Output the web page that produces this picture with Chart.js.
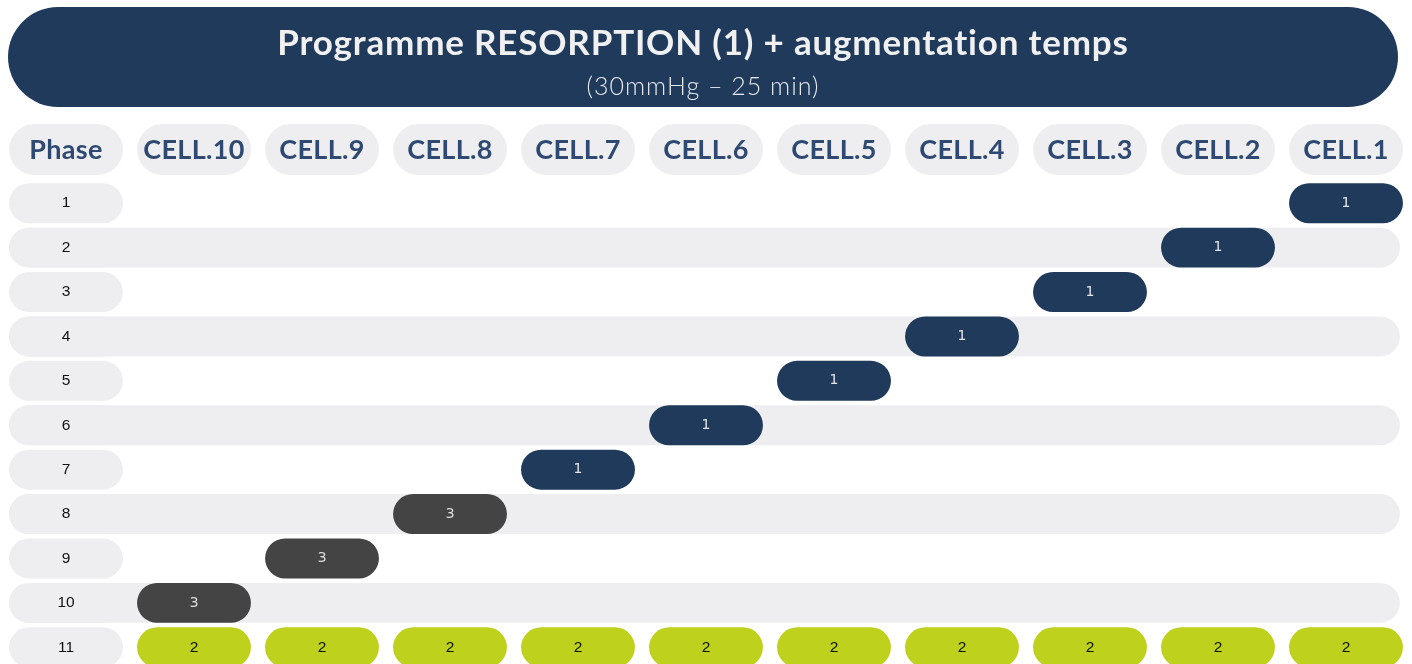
<!DOCTYPE html>
<html lang="fr">
<head>
<meta charset="utf-8">
<title>Programme RESORPTION (1) + augmentation temps</title>
<script src="https://cdn.jsdelivr.net/npm/chart.js@4/dist/chart.umd.min.js"></script>
<style>
  html, body { margin: 0; padding: 0; background: #ffffff; overflow: hidden; width: 1412px; height: 664px; }
  #wrap { position: absolute; left: 0; top: 0; width: 1412px; height: 690px; }
  #banner {
    position: absolute; left: 8px; top: 7px; width: 1390px; height: 100px;
    background: #1f3a5b; border-radius: 50px; color: #f0f0f0; text-align: center;
    font-family: "Lato", "Open Sans", sans-serif;
  }
  #banner .t1 { position: absolute; left: 0; right: 0; top: 13px; font-size: 35px; font-weight: 700; letter-spacing: 0.8px; line-height: 42px; }
  #banner .t2 { position: absolute; left: 0; right: 0; top: 63px; font-size: 25px; font-weight: 300; letter-spacing: 1px; line-height: 30px; color: #e6e9ee; }
</style>
</head>
<body>
<div id="wrap"><canvas id="c"></canvas></div>
<div id="banner">
  <div class="t1">Programme RESORPTION (1) + augmentation temps</div>
  <div class="t2">(30mmHg – 25 min)</div>
</div>
<script>
// ---------- DATA ----------
const phases = ['1', '2', '3', '4', '5', '6', '7', '8', '9', '10', '11'];
const phaseHeader = 'Phase';
const cells = ['CELL.10', 'CELL.9', 'CELL.8', 'CELL.7', 'CELL.6', 'CELL.5', 'CELL.4', 'CELL.3', 'CELL.2', 'CELL.1'];
// Phases 1 to 10: one active cell per phase and its value
const activeCell = ['CELL.1', 'CELL.2', 'CELL.3', 'CELL.4', 'CELL.5', 'CELL.6', 'CELL.7', 'CELL.8', 'CELL.9', 'CELL.10'];
const activeValue = [1, 1, 1, 1, 1, 1, 1, 3, 3, 3];
// Phase 11: value of every cell (order of `cells`)
const lastPhaseValues = [2, 2, 2, 2, 2, 2, 2, 2, 2, 2];
const valueKinds = [1, 3, 2];

// ---------- STYLES ----------
const kindColor = { 1: '#1f3a5b', 3: '#444444', 2: '#bdd11d' };
const kindText  = { 1: '#e4e4e4', 3: '#dcdcdc', 2: '#111111' };
const kindFont  = { 1: '14px "DejaVu Sans"', 3: '14.5px "DejaVu Sans"', 2: '15.5px "Liberation Sans"' };
const pillGrey = '#eeeef0';
const headerColor = '#2e4a72';
const BAR_FRAC = 0.89;

// ---------- BUILD POINTS ----------
function colOf(cell) { return cells.indexOf(cell) + 1; } // column 0 is the Phase column
function span(cell) { const c = colOf(cell); return [c - BAR_FRAC / 2, c + BAR_FRAC / 2]; }
const points = [];
activeCell.forEach((cell, r) => points.push({ y: phases[r], x: span(cell), v: activeValue[r] }));
cells.forEach((cell, i) => points.push({ y: phases[phases.length - 1], x: span(cell), v: lastPhaseValues[i] }));

const datasets = valueKinds.map(k => ({
  label: 'Valeur ' + k,
  data: points.filter(p => p.v === k),
  backgroundColor: kindColor[k],
  borderWidth: 0,
  borderRadius: 40,
  borderSkipped: false,
  grouped: false,
  barPercentage: 0.9,
  categoryPercentage: 1.0,
  kind: k
}));

function pill(ctx, cx, cy, w, h, color) {
  ctx.beginPath();
  ctx.roundRect(cx - w / 2, cy - h / 2, w, h, h / 2);
  ctx.fillStyle = color;
  ctx.fill();
}

const gridPlugin = {
  id: 'gridPlugin',
  beforeDatasetsDraw(chart) {
    const { ctx, scales: { x, y }, chartArea } = chart;
    const colW = x.getPixelForValue(1) - x.getPixelForValue(0);
    const pillW = colW * BAR_FRAC;
    const pitch = y.getPixelForValue(1) - y.getPixelForValue(0);
    const rowH = pitch * 0.9;
    ctx.save();
    // header pills
    const headers = [phaseHeader, ...cells];
    const hy = chartArea.top - 31.5;
    headers.forEach((h, i) => {
      const cx = x.getPixelForValue(i);
      pill(ctx, cx, hy, pillW, 51, pillGrey);
      ctx.fillStyle = headerColor;
      ctx.font = '700 27px "Lato", "Open Sans", sans-serif';
      ctx.letterSpacing = '0.3px';
      ctx.textAlign = 'center';
      ctx.textBaseline = 'middle';
      ctx.fillText(h, cx, hy + 1);
    });
    ctx.letterSpacing = '0px';
    // stripes on even rows
    phases.forEach((p, r) => {
      const cy = y.getPixelForValue(r);
      if (r % 2 === 1) {
        const left = x.getPixelForValue(0) - pillW / 2;
        const right = x.getPixelForValue(cells.length) + pillW / 2 - 3;
        ctx.beginPath();
        ctx.roundRect(left, cy - rowH / 2, right - left, rowH, rowH / 2);
        ctx.fillStyle = pillGrey;
        ctx.fill();
      }
      pill(ctx, x.getPixelForValue(0), cy, pillW, rowH, pillGrey);
      ctx.fillStyle = '#111111';
      ctx.font = '15.5px "Liberation Sans", Arial, sans-serif';
      ctx.textAlign = 'center';
      ctx.textBaseline = 'middle';
      ctx.fillText(p, x.getPixelForValue(0), cy);
    });
    ctx.restore();
  },
  afterDatasetsDraw(chart) {
    const { ctx } = chart;
    ctx.save();
    chart.data.datasets.forEach((ds, di) => {
      const meta = chart.getDatasetMeta(di);
      meta.data.forEach((el, i) => {
        const c = el.getCenterPoint();
        ctx.fillStyle = kindText[ds.kind];
        ctx.font = kindFont[ds.kind];
        ctx.textAlign = 'center';
        ctx.textBaseline = 'middle';
        ctx.fillText(String(ds.data[i].v), c.x, c.y);
      });
    });
    ctx.restore();
  }
};

new Chart(document.getElementById('c'), {
  type: 'bar',
  data: { labels: phases, datasets },
  options: {
    indexAxis: 'y',
    responsive: true,
    maintainAspectRatio: false,
    animation: false,
    layout: { padding: { top: 181, bottom: 20.5, left: 2, right: 2 } },
    scales: {
      x: { type: 'linear', min: -0.5, max: cells.length + 0.5, display: false },
      y: { type: 'category', display: false }
    },
    plugins: { legend: { display: false }, tooltip: { enabled: false }, title: { display: false } }
  },
  plugins: [gridPlugin]
});
</script>
</body>
</html>
